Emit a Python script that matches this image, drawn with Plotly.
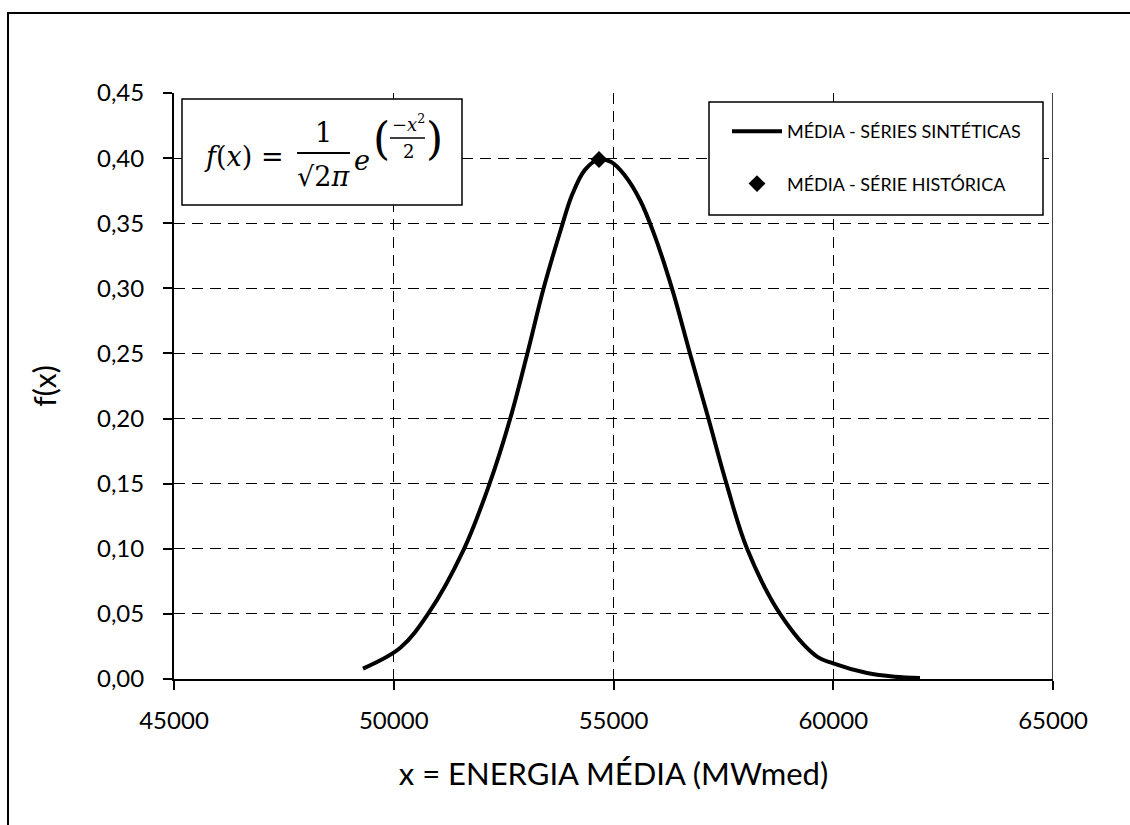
import plotly.graph_objects as go

# Synthetic-series mean density curve (x in MWmed, f(x))
energia = [49300, 50150, 50780, 51600, 52180, 52650, 53040, 53410, 53800, 54060,
           54350, 54670, 54950, 55250, 55600, 55920, 56330, 56740, 57160, 57570,
           58040, 58790, 59600, 60000, 60770, 61400, 61974]
densidade = [0.008, 0.024, 0.050, 0.100, 0.150, 0.200, 0.250, 0.300, 0.345, 0.372,
             0.391, 0.399, 0.397, 0.387, 0.368, 0.342, 0.300, 0.250, 0.200, 0.150,
             0.100, 0.050, 0.018, 0.012, 0.0046, 0.0018, 0.0008]

# Historical-series mean
hist_x = [54670]
hist_y = [0.3989]

x_ticks = [45000, 50000, 55000, 60000, 65000]
x_labels = ["45000", "50000", "55000", "60000", "65000"]
y_ticks = [0.00, 0.05, 0.10, 0.15, 0.20, 0.25, 0.30, 0.35, 0.40, 0.45]
y_labels = ["0,00", "0,05", "0,10", "0,15", "0,20", "0,25", "0,30", "0,35", "0,40", "0,45"]

W, H = 1130, 825
L, R, T, B = 174, 1053, 93, 679  # plot-area edges in pixels


def px(xp):
    return (xp - L) / (R - L)


def py(yp):
    return (B - yp) / (B - T)


FONT = "Lato"
MATH = "DejaVu Serif"

fig = go.Figure()
fig.add_trace(go.Scatter(
    x=energia, y=densidade, mode="lines",
    line=dict(color="black", width=4, shape="spline", smoothing=1.0),
    name="MÉDIA - SÉRIES SINTÉTICAS", legendgroup="a"))
fig.add_trace(go.Scatter(
    x=hist_x, y=hist_y, mode="markers", marker=dict(symbol="diamond", size=13, color="black"),
    name="MÉDIA - SÉRIE HISTÓRICA", legendgroup="b"))

grid = dict(showgrid=True, gridcolor="black", gridwidth=1.3, griddash="11px,7px")

fig.update_xaxes(range=[45000, 65000], tickvals=x_ticks, ticktext=x_labels,
                 showline=True, linecolor="black", linewidth=2, ticks="outside", ticklen=9,
                 tickwidth=1.5, tickcolor="black", zeroline=False, ticklabelstandoff=10,
                 tickfont=dict(family=FONT, size=24, color="black"),
                 title=dict(text="x = ENERGIA MÉDIA (MWmed)", font=dict(family=FONT, size=31, color="black"),
                            standoff=31), **grid)
fig.update_yaxes(range=[0, 0.45], tickvals=y_ticks, ticktext=y_labels,
                 showline=True, linecolor="black", linewidth=2, ticks="outside", ticklen=9,
                 tickwidth=1.5, tickcolor="black", zeroline=False, ticklabelstandoff=14,
                 tickfont=dict(family=FONT, size=24, color="black"),
                 title=dict(text="f(x)", font=dict(family=FONT, size=30, color="black"), standoff=31),
                 **grid)

shapes = [
    # outer chart frame
    dict(type="rect", xref="paper", yref="paper", x0=px(8), x1=px(1140), y0=py(13), y1=py(840),
         line=dict(color="black", width=2), layer="above"),
    # right plot-area edge
    dict(type="line", xref="x", yref="y", x0=65000, x1=65000, y0=0, y1=0.45,
         line=dict(color="black", width=1.5)),
    # formula box
    dict(type="rect", xref="paper", yref="paper", x0=px(182), x1=px(462), y0=py(205), y1=py(99),
         line=dict(color="black", width=1.5), fillcolor="white", layer="above"),
    # legend box
    dict(type="rect", xref="paper", yref="paper", x0=px(709), x1=px(1043), y0=py(215), y1=py(102),
         line=dict(color="black", width=1.5), fillcolor="white", layer="above"),
    # fraction bars of the formula
    dict(type="line", xref="paper", yref="paper", x0=px(297), x1=px(350), y0=py(153), y1=py(153),
         line=dict(color="black", width=1.8), layer="above"),
    dict(type="line", xref="paper", yref="paper", x0=px(390), x1=px(425), y0=py(138), y1=py(138),
         line=dict(color="black", width=1.5), layer="above"),
]


def note(text, x, y, size, family=MATH, italic=False):
    if italic:
        text = "<i>" + text + "</i>"
    return dict(text=text, xref="paper", yref="paper", x=px(x), y=py(y), showarrow=False,
                xanchor="center", yanchor="middle", borderpad=0,
                font=dict(family=family, size=size, color="black"))


annotations = [
    note("f</i>(<i>x</i>) =<i>", 244, 157, 27, italic=True),
    note("1", 323, 132, 27),
    note("√2<i>π</i>", 323, 176, 27),
    note("e", 362, 161, 27, italic=True),
    note("(", 381, 139, 44),
    note("−<i>x</i><sup>2</sup>", 408, 123, 18),
    note("2", 408, 151, 18),
    note(")", 434, 139, 44),
]

fig.update_layout(
    width=W, height=H,
    margin=dict(l=L, r=W - R, t=T, b=H - B),
    paper_bgcolor="white", plot_bgcolor="white",
    shapes=shapes, annotations=annotations,
    showlegend=True,
    legend=dict(x=px(727), y=py(113), xanchor="left", yanchor="top",
                bgcolor="rgba(0,0,0,0)", borderwidth=0, tracegroupgap=26,
                traceorder="grouped", itemwidth=50,
                font=dict(family=FONT, size=18, color="black")),
)

fig.write_html("out.html")
